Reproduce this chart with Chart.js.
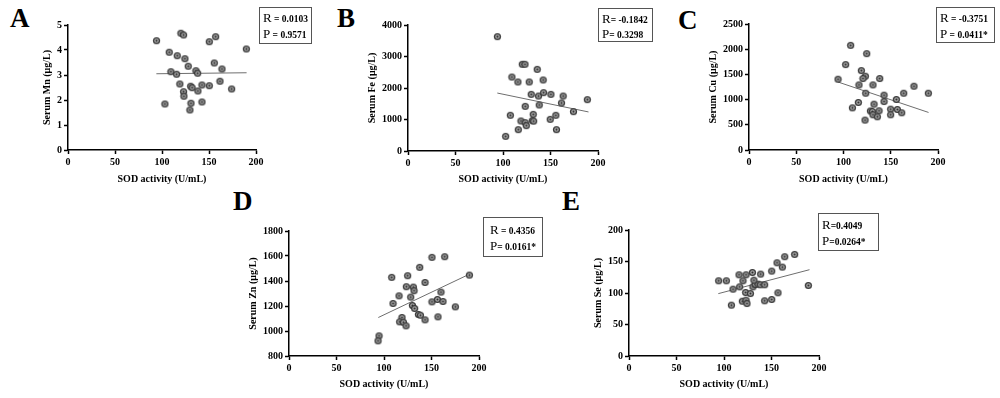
<!DOCTYPE html>
<html><head><meta charset="utf-8">
<script src="https://cdn.jsdelivr.net/npm/chart.js@4.4.1/dist/chart.umd.min.js"></script>
<style>
body{margin:0;width:1000px;height:398px;background:#fff;position:relative;overflow:hidden;font-family:"Liberation Serif","Times New Roman",serif;}
canvas{position:absolute;}
.lbl{position:absolute;font-weight:bold;font-size:27px;line-height:1;color:#000;}
.box{position:absolute;border:1px solid #555;box-sizing:border-box;color:#000;}
.box div{position:absolute;left:3px;white-space:nowrap;line-height:1;}
.box .r{font-size:13px;font-weight:normal;}
.box .v{font-size:9.5px;font-weight:bold;}
</style>
</head><body>
<canvas id="cA"></canvas><canvas id="cB"></canvas><canvas id="cC"></canvas><canvas id="cD"></canvas><canvas id="cE"></canvas>
<div class="lbl" style="left:10px;top:5px">A</div>
<div class="lbl" style="left:337px;top:5px">B</div>
<div class="lbl" style="left:678px;top:7px">C</div>
<div class="lbl" style="left:233px;top:188px">D</div>
<div class="lbl" style="left:562px;top:188px">E</div>
<div class="box" style="left:259px;top:7px;width:53px;height:37px"><div style="top:1px"><span class="r">R</span><span class="v"> = 0.0103</span></div><div style="top:17px"><span class="r">P</span><span class="v"> = 0.9571</span></div></div>
<div class="box" style="left:598px;top:8px;width:55px;height:34px"><div style="top:1px"><span class="r">R</span><span class="v">= -0.1842</span></div><div style="top:16px"><span class="r">P</span><span class="v">= 0.3298</span></div></div>
<div class="box" style="left:936px;top:7px;width:59px;height:36px"><div style="top:1px"><span class="r">R</span><span class="v"> = -0.3751</span></div><div style="top:17px"><span class="r">P</span><span class="v"> = 0.0411*</span></div></div>
<div class="box" style="left:483px;top:217px;width:60px;height:40px"><div style="top:3px;left:6px"><span class="r">R</span><span class="v"> = 0.4356</span></div><div style="top:19px;left:6px"><span class="r">P</span><span class="v">= 0.0161*</span></div></div>
<div class="box" style="left:818px;top:213px;width:61px;height:38px"><div style="top:2px"><span class="r">R</span><span class="v">=0.4049</span></div><div style="top:18px"><span class="r">P</span><span class="v">=0.0264*</span></div></div>
<script>
// ---- data ----
const xTicks = [0, 50, 100, 150, 200];

const sodA = [94.2,120.1,123.0,150.3,157.1,189.7,107.7,116.2,124.4,127.9,155.6,163.8,109.5,115.5,136.1,137.9,119.0,130.5,132.0,142.5,150.3,161.7,174.1,123.0,138.2,123.3,103.1,130.8,142.5,129.7];
const mnValues = [4.37,4.67,4.60,4.33,4.53,4.04,3.91,3.77,3.65,3.35,3.48,3.24,3.13,3.03,3.17,3.07,2.64,2.55,2.49,2.60,2.57,2.75,2.44,2.33,2.36,2.15,1.84,1.87,1.92,1.60];
const fitAx = [94, 190], fitAy = [3.05, 3.09];

const sodB = [94.1,120.3,123.1,136.0,109.4,115.7,127.6,142.3,129.7,137.4,142.7,150.4,163.3,188.8,161.6,123.4,138.1,174.2,107.7,131.8,155.6,149.7,118.9,123.4,124.5,130.8,132.3,116.1,156.3,102.8];
const feValues = [3630,2752,2752,2593,2349,2191,2191,2254,1799,1746,1852,1799,1746,1630,1524,1418,1461,1249,1133,1164,1133,1005,953,900,804,963,950,677,677,466];
const fitBx = [94, 190], fitBy = [1840, 1240];

const sodC = [107.6,124.6,102.3,118.9,123.1,120.6,138.3,94.2,116.4,131.2,174.6,123.5,163.7,189.8,142.9,155.9,142.9,115.7,132.3,109.4,149.9,157.0,137.6,128.5,130.5,161.6,131.2,149.9,135.8,122.8];
const cuValues = [2077,1912,1695,1576,1464,1418,1418,1404,1292,1292,1266,1127,1127,1127,1088,1002,962,943,910,837,811,804,778,775,765,738,699,699,659,593];
const fitCx = [94, 190], fitCy = [1350, 745];

const sodD = [150.5,163.9,137.6,108.1,124.9,189.9,123.5,130.9,131.6,143.2,115.8,128.1,109.5,160.0,129.9,132.3,150.5,156.2,162.1,175.1,136.2,138.3,156.8,143.2,118.9,116.5,120.4,123.2,94.8,93.7];
const znValues = [1589,1594,1509,1429,1442,1447,1354,1351,1322,1388,1281,1271,1220,1311,1204,1180,1233,1252,1236,1193,1132,1126,1113,1089,1108,1073,1070,1041,961,921];
const fitDx = [94, 190], fitDy = [1108, 1455];

const sodE = [94.4,102.5,115.8,123.2,129.9,138.6,120.0,150.2,155.8,161.4,163.9,174.4,109.5,116.5,130.5,132.9,135.8,138.2,142.8,131.5,122.8,127.8,188.8,156.8,150.2,142.8,119.3,123.2,124.2,107.8];
const seValues = [119.4,119.4,128.9,128.9,132.6,130.0,119.4,134.8,148.0,141.1,157.6,161.3,106.1,109.8,109.8,113.5,114.1,113.0,113.0,120.4,100.8,99.2,112.0,100.3,89.7,87.6,87.0,88.6,83.3,80.7];
const fitEx = [94, 190], fitEy = [99, 137];

const yTicksA = [0,1,2,3,4,5];
const yTicksB = [0,1000,2000,3000,4000];
const yTicksC = [0,500,1000,1500,2000,2500];
const yTicksD = [800,1000,1200,1400,1600,1800];
const yTicksE = [0,50,100,150,200];

// ---- marker ----
const mk = document.createElement('canvas');
mk.width = 9; mk.height = 9;
(function(){
  const g = mk.getContext('2d');
  g.beginPath(); g.arc(4.5,4.5,3.6,0,Math.PI*2);
  g.fillStyle = '#383838'; g.fill();
  g.beginPath(); g.arc(4.5,4.5,2.3,0,Math.PI*2);
  g.fillStyle = '#a4a4a4'; g.fill();
  g.beginPath(); g.arc(4.5,4.5,1.0,0,Math.PI*2); g.fillStyle = '#2a2a2a'; g.fill();
})();

// ---- layout (plot area in page px) ----
const panels = [
  {id:'cA', sod:sodA, vals:mnValues, fx:fitAx, fy:fitAy, ticks:yTicksA, title:'Serum Mn (μg/L)', L:68, R:256, T:25, B:150, YT:47, XT:179},
  {id:'cB', sod:sodB, vals:feValues, fx:fitBx, fy:fitBy, ticks:yTicksB, title:'Serum Fe (μg/L)', L:408, R:598, T:25, B:151, YT:372, XT:179},
  {id:'cC', sod:sodC, vals:cuValues, fx:fitCx, fy:fitCy, ticks:yTicksC, title:'Serum Cu (μg/L)', L:749, R:938, T:24, B:150, YT:713, XT:179},
  {id:'cD', sod:sodD, vals:znValues, fx:fitDx, fy:fitDy, ticks:yTicksD, title:'Serum Zn (μg/L)', L:289, R:479, T:231, B:356, YT:253, XT:384},
  {id:'cE', sod:sodE, vals:seValues, fx:fitEx, fy:fitEy, ticks:yTicksE, title:'Serum Se (μg/L)', L:629, R:819, T:230, B:356, YT:598, XT:384},
];

const FONT = '"Liberation Serif", "Times New Roman", serif';

panels.forEach(p => {
  const cv = document.getElementById(p.id);
  const padTop = 12, padRight = 16;
  const left = p.YT - 6, top = p.T - padTop;
  const w = p.R + padRight - left, h = p.XT + 6 - top;
  cv.width = w; cv.height = h;
  cv.style.left = left + 'px'; cv.style.top = top + 'px';
  cv.style.width = w + 'px'; cv.style.height = h + 'px';
  const yW = p.L - left, xH = top + h - p.B;
  const yMin = p.ticks[0], yMax = p.ticks[p.ticks.length-1];
  new Chart(cv, {
    data: {
      datasets: [
        { type:'scatter', data: p.sod.map((x,i)=>({x, y:p.vals[i]})), pointStyle: mk, pointRadius: 4.5, order: 1 },
        { type:'line', data: p.fx.map((x,i)=>({x, y:p.fy[i]})), borderColor:'#6e6e6e', borderWidth:1, pointRadius:0, order: 2 }
      ]
    },
    options: {
      responsive:false, animation:false, devicePixelRatio:1,
      layout:{ padding:{ top:padTop, right:padRight, left:0, bottom:0 } },
      plugins:{ legend:{display:false}, tooltip:{enabled:false} },
      scales:{
        x:{ type:'linear', min:0, max:200,
            afterBuildTicks(s){ s.ticks = xTicks.map(v=>({value:v})); },
            afterFit(s){ s.height = xH; },
            grid:{ display:true, drawOnChartArea:false, drawTicks:true, tickLength:4, tickColor:'#000', tickWidth:1.5 },
            border:{ display:true, color:'#000', width:1.5 },
            ticks:{ color:'#000', padding:2, maxRotation:0, callback:v=>String(v), font:{ family:FONT, size:10, weight:'bold' } },
            title:{ display:true, text:'SOD activity (U/mL)', color:'#000', padding:0, font:{ family:FONT, size:10, weight:'bold' } }
        },
        y:{ type:'linear', min:yMin, max:yMax,
            afterBuildTicks(s){ s.ticks = p.ticks.map(v=>({value:v})); },
            afterFit(s){ s.width = yW; },
            grid:{ display:true, drawOnChartArea:false, drawTicks:true, tickLength:4, tickColor:'#000', tickWidth:1.5 },
            border:{ display:true, color:'#000', width:1.5 },
            ticks:{ color:'#000', padding:2, callback:v=>String(v), font:{ family:FONT, size:10, weight:'bold' } },
            title:{ display:true, text:p.title, color:'#000', padding:0, font:{ family:FONT, size:10, weight:'bold' } }
        }
      }
    }
  });
});
</script>
</body></html>
